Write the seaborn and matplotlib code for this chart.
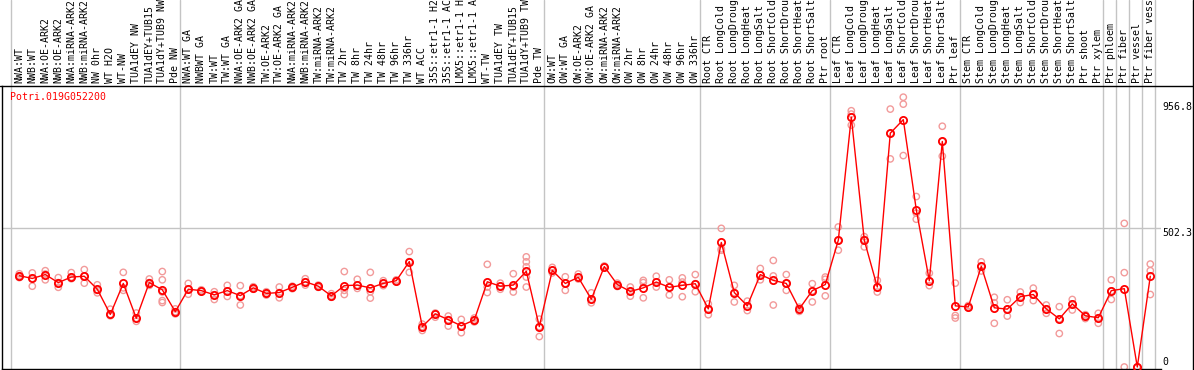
import numpy as np
import pandas as pd
import matplotlib
matplotlib.use("Agg")
import matplotlib.pyplot as plt
from matplotlib.lines import Line2D
import seaborn as sns

gene = "Potri.019G052200"

categories = [
    "NWA:WT", "NWB:WT", "NWA:OE-ARK2", "NWB:OE-ARK2", "NWA:miRNA-ARK2", "NWB:miRNA-ARK2",
    "NW 0hr", "WT H2O", "WT-NW", "TUA1dEY NW", "TUA1dEY+TUB15", "TUA1dY+TUB9 NW", "Pde NW",
    "NWA:WT GA", "NWBWT GA", "TW:WT", "TW:WT GA", "NWA:OE-ARK2 GA", "NWB:OE-ARK2 GA",
    "TW:OE-ARK2", "TW:OE-ARK2 GA", "NWA:miRNA-ARK2", "NWB:miRNA-ARK2", "TW:miRNA-ARK2",
    "TW:miRNA-ARK2", "TW 2hr", "TW 8hr", "TW 24hr", "TW 48hr", "TW 96hr", "TW 336hr",
    "WT ACC", "35S::etr1-1 H2", "35S::etr1-1 AC", "LMX5::etr1-1 H", "LMX5::etr1-1 A",
    "WT-TW", "TUA1dEY TW", "TUA1dEY+TUB15", "TUA1dY+TUB9 TW", "Pde TW",
    "OW:WT", "OW:WT GA", "OW:OE-ARK2", "OW:OE-ARK2 GA", "OW:miRNA-ARK2", "OW:miRNA-ARK2",
    "OW 2hr", "OW 8hr", "OW 24hr", "OW 48hr", "OW 96hr", "OW 336hr",
    "Root CTR", "Root LongCold", "Root LongDroug", "Root LongHeat", "Root LongSalt",
    "Root ShortCold", "Root ShortDrou", "Root ShortHeat", "Root ShortSalt", "Ptr root",
    "Leaf CTR", "Leaf LongCold", "Leaf LongDroug", "Leaf LongHeat", "Leaf LongSalt",
    "Leaf ShortCold", "Leaf ShortDrou", "Leaf ShortHeat", "Leaf ShortSalt", "Ptr leaf",
    "Stem CTR", "Stem LongCold", "Stem LongDroug", "Stem LongHeat", "Stem LongSalt",
    "Stem ShortCold", "Stem ShortDrou", "Stem ShortHeat", "Stem ShortSalt", "Ptr shoot",
    "Ptr xylem", "Ptr phloem", "Ptr fiber", "Ptr vessel", "Ptr fiber vess",
]

group_sizes = [13, 28, 12, 10, 10, 11, 1, 1, 1, 1]

means = [
    330, 320, 334, 305, 325, 328, 281, 190, 302, 176,
    305, 279, 200, 281, 276, 261, 276, 258, 286, 266,
    269, 288, 308, 292, 257, 294, 296, 286, 302, 312,
    381, 146, 192, 171, 149, 170, 308, 292, 296, 346,
    146, 349, 302, 324, 245, 363, 298, 273, 286, 307,
    288, 295, 301, 210, 450, 269, 221, 334, 313, 302,
    210, 276, 298, 458, 903, 458, 289, 845, 894, 568,
    312, 815, 221, 217, 364, 214, 209, 254, 262, 210,
    174, 228, 185, 178, 276, 283, 0, 328,
]

replicates = [
    [337, 330, 323], [340, 320, 292], [348, 336, 315], [323, 305, 288], [341, 325, 319],
    [352, 328, 303], [297, 277, 268], [209, 190, 185], [342, 286, 277], [195, 176, 165],
    [318, 305, 295], [345, 315, 271, 240, 233], [210, 200, 192], [302, 281, 263], [279, 275, 272],
    [272, 261, 244], [295, 275, 255], [294, 258, 224], [290, 286, 281], [272, 266, 260],
    [289, 269, 250], [292, 288, 283], [319, 308, 296], [296, 292, 288], [265, 257, 252],
    [345, 277, 262], [317, 296, 284], [342, 272, 249], [312, 302, 294], [315, 312, 308],
    [417, 381, 342], [155, 146, 132], [195, 192, 180], [184, 171, 148], [172, 149, 124],
    [177, 170, 163], [371, 289, 269], [303, 292, 281], [337, 289, 271], [398, 380, 362, 325, 289],
    [173, 146, 110], [360, 349, 340], [326, 302, 277], [336, 324, 318], [268, 245, 232],
    [365, 363, 360], [303, 298, 291], [289, 273, 256], [313, 305, 250], [328, 307, 289],
    [315, 288, 260], [322, 307, 254], [334, 301, 272], [228, 210, 189], [501, 427, 422],
    [295, 269, 235], [238, 221, 204], [356, 334, 315], [385, 329, 224], [334, 302, 277],
    [216, 210, 201], [301, 275, 235], [325, 317, 257], [506, 457, 422], [926, 914, 874],
    [471, 461, 434], [313, 289, 271], [932, 844, 752], [975, 950, 764], [616, 556, 534],
    [339, 312, 294], [870, 815, 762], [303, 186, 177], [222, 217, 214], [380, 364, 347],
    [252, 232, 158], [243, 209, 184], [271, 254, 233], [285, 262, 240], [224, 210, 194],
    [218, 174, 121], [244, 228, 206], [189, 184, 175], [194, 178, 158], [315, 275, 244],
    [519, 341, 0], [0, 0, 0], [372, 348, 262],
]

ytick_values = [0, 502.3, 956.8]
ytick_labels = ["0", "502.3", "956.8"]

# ---------------------------------------------------------------- style
sns.set_style("white")
plt.rcParams["font.family"] = ["DejaVu Sans Mono"]
FS = 7.1
RED = "#ff0000"
PINK = "#f29a9a"
GRAY = "#c4c4c4"

W, H = 1194, 370
fig = plt.figure(figsize=(W / 100, H / 100), dpi=100)
ax_l, ax_r, ax_t, ax_b = 1.5, 1161.0, 86.0, 369.0
ax = fig.add_axes([ax_l / W, 1 - ax_b / H, (ax_r - ax_l) / W, (ax_b - ax_t) / H])

x0px, step = 19.3, 13.0
ax.set_xlim((ax_l - x0px) / step, (ax_r - x0px) / step)
y0px, scale = 367.0, 139.0 / 502.3
ax.set_ylim(-(ax_b - y0px) / scale, (y0px - ax_t) / scale)

pos = np.arange(len(categories))
rep_df = pd.DataFrame(
    [(i, v) for i, reps in enumerate(replicates) for v in reps], columns=["pos", "value"]
)
mean_df = pd.DataFrame({"pos": pos, "value": means})

# group separators (full figure height)
bounds = np.concatenate([[0], np.cumsum(group_sizes)])
for b in bounds:
    ax.axvline(b - 0.62, ymin=-0.01, ymax=ax_b / (ax_b - ax_t), color=GRAY, lw=1.0,
               clip_on=False, zorder=0)
ax.axhline(502.3, color=GRAY, lw=1.0, zorder=0)

sns.scatterplot(data=rep_df, x="pos", y="value", ax=ax, marker="o", s=21,
                facecolor="none", edgecolor=PINK, linewidth=1.0, zorder=2, legend=False)
sns.lineplot(data=mean_df, x="pos", y="value", ax=ax, color=RED, lw=1.0, zorder=3,
             marker="o", markersize=5.2, markerfacecolor="none", markeredgecolor=RED,
             markeredgewidth=1.3, legend=False, errorbar=None)

# axes decorations
ax.xaxis.tick_top()
ax.set_xticks(pos)
ax.set_xticklabels(categories, rotation=90, fontsize=FS)
ax.tick_params(axis="x", length=0, pad=2.0, colors="black")
ax.yaxis.tick_right()
ax.set_yticks(ytick_values)
ax.set_yticklabels(ytick_labels, fontsize=FS)
ax.tick_params(axis="y", length=0, pad=1.3, colors="black")
for lab, va in zip(ax.get_yticklabels(), ["bottom", "top", "top"]):
    lab.set_va(va)
ax.set_xlabel("")
ax.set_ylabel("")
ax.grid(False)
for s in ["top", "right"]:
    ax.spines[s].set_visible(False)
for s in ["left", "bottom"]:
    ax.spines[s].set_color("black")
    ax.spines[s].set_linewidth(1.0)

fig.add_artist(Line2D([0, 1], [1 - ax_t / H] * 2, transform=fig.transFigure,
                      color="black", lw=1.0))
fig.add_artist(Line2D([1193 / W] * 2, [0, 1], transform=fig.transFigure,
                      color="black", lw=1.0))

fig.text(10 / W, 1 - 97.5 / H, gene, color=RED, fontsize=FS, ha="left", va="center")

fig.savefig("out.png", dpi=100, facecolor="white")
